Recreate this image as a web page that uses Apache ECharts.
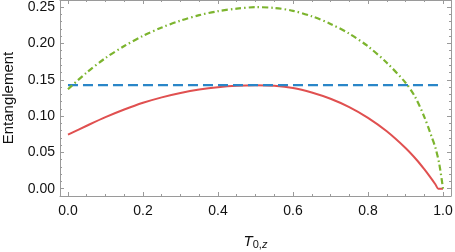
<!DOCTYPE html>
<html><head><meta charset="utf-8">
<script src="https://cdn.jsdelivr.net/npm/echarts@6/dist/echarts.min.js"></script>
<style>html,body{margin:0;padding:0;background:#fff}#c{width:455px;height:252px}</style>
</head><body><div id="c"></div>
<script>
// tick values
const xMajorTicks = [0, 0.2, 0.4, 0.6, 0.8, 1.0];
const xMinorTicks = [0.05, 0.1, 0.15, 0.25, 0.3, 0.35, 0.45, 0.5, 0.55, 0.65, 0.7, 0.75, 0.85, 0.9, 0.95];
const yMajorTicks = [0, 0.05, 0.10, 0.15, 0.20, 0.25];
const yMinorTicks = [0.01, 0.02, 0.03, 0.04, 0.06, 0.07, 0.08, 0.09, 0.11, 0.12, 0.13, 0.14,
                     0.16, 0.17, 0.18, 0.19, 0.21, 0.22, 0.23, 0.24];

// green dash-dot curve
const greenT = [0, 0.05, 0.10, 0.15, 0.20, 0.25, 0.30, 0.35, 0.40, 0.45, 0.50, 0.55, 0.60, 0.65, 0.70, 0.75, 0.80, 0.85, 0.90, 0.925, 0.95, 0.97, 0.98, 0.99, 1.0];
const greenV = [0.137, 0.160, 0.180, 0.1965, 0.2105, 0.222, 0.2315, 0.239, 0.2445, 0.248, 0.250, 0.249, 0.2450, 0.2375, 0.2270, 0.2135, 0.1960, 0.1735, 0.1460, 0.1270, 0.0990, 0.0710, 0.0560, 0.0340, 0.0];

// red solid curve
const redT = [0, 0.05, 0.10, 0.15, 0.20, 0.25, 0.30, 0.35, 0.40, 0.45, 0.50, 0.55, 0.60, 0.65, 0.70, 0.75, 0.80, 0.85, 0.90, 0.93, 0.95, 0.965, 0.98, 0.9875, 1.0];
const redV = [0.0745, 0.0867, 0.0985, 0.1090, 0.1183, 0.1258, 0.1318, 0.1365, 0.1398, 0.1418, 0.1425, 0.1418, 0.1388, 0.1325, 0.1238, 0.1123, 0.0975, 0.0790, 0.0560, 0.0395, 0.0268, 0.0165, 0.0057, 0.0, 0.0];

// blue dashed constant
const blueT = [0, 1.0];
const blueV = [0.1425, 0.1425];

const XMIN = -0.0213, XMAX = 1.0213;
const YMIN = -0.0101, YMAX = 0.2599;
const frame = '#9a9a9a';
const font = 'Liberation Sans';

function pairs(t, v) { return t.map((x, i) => [x, v[i]]); }

function xAx(pos, vals, len, main) {
  return {
    type: 'value', position: pos, min: XMIN, max: XMAX,
    axisLine: { show: main, onZero: false, lineStyle: { color: frame, width: 1 } },
    splitLine: { show: false },
    axisTick: { show: true, inside: true, length: len, customValues: vals, lineStyle: { color: frame, width: 1 } },
    axisLabel: { show: main && pos === 'bottom', customValues: vals, formatter: v => v.toFixed(1),
      fontSize: 14, color: '#111', margin: 8, fontFamily: font }
  };
}
function yAx(pos, vals, len, main) {
  return {
    type: 'value', position: pos, min: YMIN, max: YMAX,
    axisLine: { show: main, onZero: false, lineStyle: { color: frame, width: 1 } },
    splitLine: { show: false },
    axisTick: { show: true, inside: true, length: len, customValues: vals, lineStyle: { color: frame, width: 1 } },
    axisLabel: { show: main && pos === 'left', customValues: vals, formatter: v => v.toFixed(2),
      fontSize: 14, color: '#111', margin: 5, fontFamily: font }
  };
}

const xa0 = xAx('bottom', xMajorTicks, 4, true);
xa0.name = '{i|T}{s|0,}{si|z}';
xa0.nameLocation = 'middle';
xa0.nameGap = 37;
xa0.nameTextStyle = { rich: {
  i: { fontSize: 15, fontStyle: 'italic', fontFamily: font, color: '#111' },
  s: { fontSize: 11, fontFamily: font, color: '#111', verticalAlign: 'bottom', padding: [6, 0, 0, 0] },
  si: { fontSize: 11, fontStyle: 'italic', fontFamily: font, color: '#111', verticalAlign: 'bottom', padding: [6, 0, 0, 0] }
} };
const ya0 = yAx('left', yMajorTicks, 4, true);
ya0.name = 'Entanglement';
ya0.nameLocation = 'middle';
ya0.nameGap = 43;
ya0.nameRotate = 90;
ya0.nameTextStyle = { fontSize: 15, fontFamily: font, color: '#111' };

const chart = echarts.init(document.getElementById('c'), null, { renderer: 'canvas' });
chart.setOption({
  animation: false,
  backgroundColor: '#fff',
  grid: { left: 60, right: 4, top: 0, bottom: 56, containLabel: false, outerBoundsMode: 'none' },
  xAxis: [xa0, xAx('bottom', xMinorTicks, 2, false), xAx('top', xMajorTicks, 4, true), xAx('top', xMinorTicks, 2, false)],
  yAxis: [ya0, yAx('left', yMinorTicks, 2, false), yAx('right', yMajorTicks, 4, true), yAx('right', yMinorTicks, 2, false)],
  series: [
    { type: 'line', data: pairs(redT, redV), showSymbol: false, smooth: 0.3,
      lineStyle: { color: '#e05050', width: 2 }, z: 3 },
    { type: 'line', data: pairs(blueT, blueV), showSymbol: false,
      lineStyle: { color: '#2a86c8', width: 2.2, type: [10, 5] }, z: 4 },
    { type: 'line', data: pairs(greenT, greenV), showSymbol: false, smooth: 0.3,
      lineStyle: { color: '#7cb42e', width: 2.2, type: [6, 3, 1.5, 3] }, z: 5 }
  ]
});
</script>
</body></html>
